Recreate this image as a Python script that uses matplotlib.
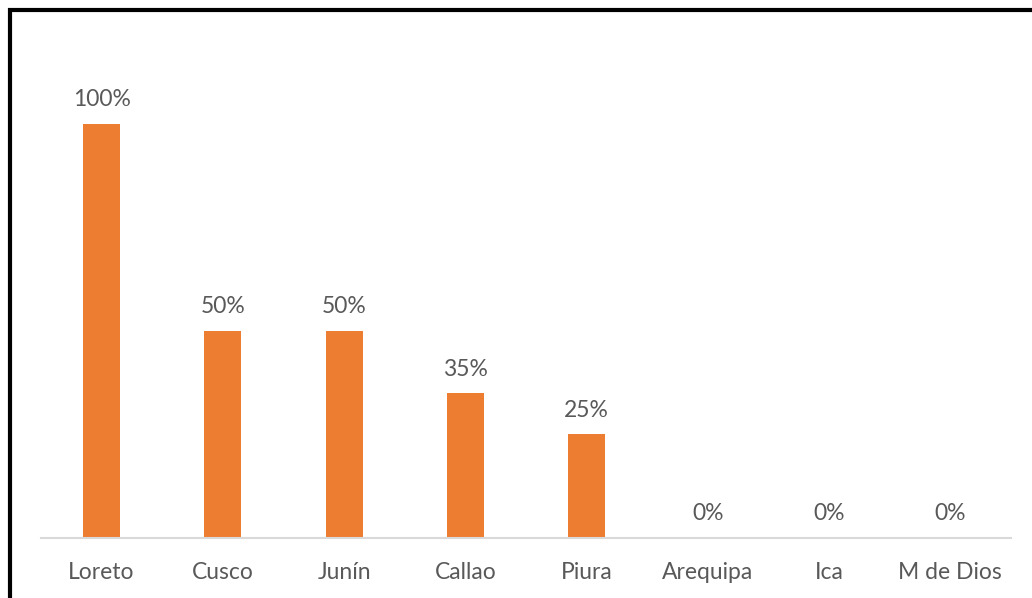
import matplotlib
matplotlib.use("Agg")
import matplotlib.pyplot as plt
from matplotlib.patches import Rectangle

#--- data
regions = ["Loreto", "Cusco", "Junín", "Callao", "Piura", "Arequipa", "Ica", "M de Dios"]
shares = [100, 50, 50, 35, 25, 0, 0, 0]   # percent

BAR_COLOUR = "#ED7D31"
TEXT_COLOUR = "#595959"
AXIS_COLOUR = "#D9D9D9"

plt.rcParams["font.family"] = ["Lato", "DejaVu Sans"]

W, H = 1032, 598
fig = plt.figure(figsize=(W / 100, H / 100), dpi=100)
ax = fig.add_axes([41 / W, (H - 538) / H, (1011 - 41) / W, (538 - 41) / H])

x = range(len(regions))
ax.bar(x, shares, width=0.305, color=BAR_COLOUR, zorder=2)

for xi, v in zip(x, shares):
    ax.annotate(f"{v}%", xy=(xi, v), xytext=(0, 24), textcoords="offset pixels",
                ha="center", va="center", fontsize=16.5, color=TEXT_COLOUR)

ax.set_xlim(-0.5, len(regions) - 0.5)
ax.set_ylim(0, 120)
ax.set_xticks(list(x))
ax.set_xticklabels(regions, fontsize=16.5, color=TEXT_COLOUR)
ax.tick_params(axis="x", length=0, pad=17)
ax.set_yticks([])
for side in ["top", "right", "left"]:
    ax.spines[side].set_visible(False)
ax.spines["bottom"].set_color(AXIS_COLOUR)
ax.spines["bottom"].set_linewidth(1.5)

# black frame around the chart (right and bottom edges fall outside the image)
fig.patches.append(Rectangle((9.5 / W, -0.1), 1.2, (H - 9.5) / H + 0.1,
                             transform=fig.transFigure, fill=False,
                             edgecolor="black", linewidth=3))

fig.savefig("out.png", dpi=100, facecolor="white")
